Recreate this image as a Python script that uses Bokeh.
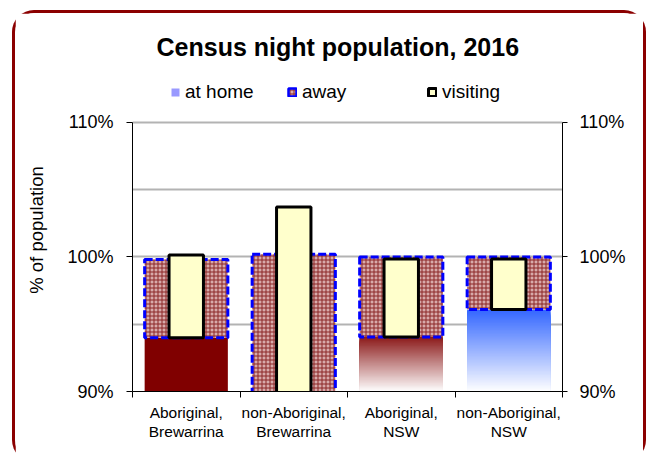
from bokeh.plotting import figure
from bokeh.models import (ColumnDataSource, Range1d, FixedTicker, LinearAxis, Legend, LegendItem)
from bokeh.embed import file_html
from bokeh.resources import INLINE

# ---- data ----
categories = ["Aboriginal,\nBrewarrina", "non-Aboriginal,\nBrewarrina", "Aboriginal,\nNSW", "non-Aboriginal,\nNSW"]
at_home = [94.0, 86.0, 94.05, 96.1]
away = [5.8, 14.2, 5.95, 3.9]
visiting = [6.15, 17.7, 5.8, 3.75]
y_ticks = [90, 100, 110]
y_tick_labels = ["90%", "100%", "110%"]
grid_ticks = [95, 100, 105, 110]
home_style = ["solid", "solid", "grad_red", "grad_blue"]
legend_labels = ["at home", "away", "visiting"]

FONT = "Liberation Sans"
Y0, Y1 = 90, 110          # axis extent
Y_TOP = 114               # frame extends above the axis to hold the legend

p = figure(width=628, height=449, x_range=Range1d(0, len(categories)), y_range=Range1d(Y0, Y_TOP),
           output_backend="svg", toolbar_location=None,
           min_border_left=117, min_border_right=87, min_border_top=55, min_border_bottom=74)
p.styles = {"border": "3px solid #8B0000", "border-bottom": "none", "border-radius": "22px",
            "margin-left": "12px", "margin-top": "10px", "box-sizing": "content-box",
            "max-width": "none", "overflow": "visible"}
p.outline_line_color = None
p.background_fill_color = "white"
p.border_fill_color = "white"

p.title.text = "Census night population, 2016"
p.title.text_font = FONT
p.title.text_font_size = "25px"
p.title.text_font_style = "bold"
p.title.text_color = "black"
p.title.align = "left"
p.title.offset = 24
p.title.standoff = 15

xc = [i + 0.5 for i in range(len(categories))]
bw = 0.774
vw = 0.32

# at home bars
solid_idx = [i for i, s in enumerate(home_style) if s == "solid"]
p.quad(left=[xc[i] - bw / 2 for i in solid_idx], right=[xc[i] + bw / 2 for i in solid_idx],
       bottom=[0 for i in solid_idx], top=[at_home[i] for i in solid_idx],
       fill_color="#800000", line_color=None)

def lerp(c1, c2, t):
    return "#%02x%02x%02x" % tuple(int(round(a + (b - a) * t)) for a, b in zip(c1, c2))

# gradient at-home bars: nested slices, drawn largest (top colour) first
grad_tops = {"grad_red": (0x8B, 0x1A, 0x1A), "grad_blue": (0x33, 0x66, 0xFF)}
N = 60
for i, s in enumerate(home_style):
    if s in grad_tops:
        lo, hi = Y0, at_home[i]
        step = (hi - lo) / N
        ks = list(range(N - 1, -1, -1))
        tops = [lo + (k + 1) * step for k in ks]
        cols = [lerp((0xFF, 0xFF, 0xFF), grad_tops[s], (k + 0.5) / N) for k in ks]
        p.quad(left=[xc[i] - bw / 2] * N, right=[xc[i] + bw / 2] * N, bottom=[lo] * N, top=tops,
               fill_color=cols, line_color=None)

# away bars
away_kw = dict(fill_color="#d8aaaa", hatch_pattern="+", hatch_color="#8b2525", hatch_scale=4,
               hatch_weight=1, line_color="#0000FF", line_width=3, line_dash="8 3")
p.quad(left=[x - bw / 2 for x in xc], right=[x + bw / 2 for x in xc],
       bottom=at_home, top=[h + a for h, a in zip(at_home, away)], **away_kw)

# visiting bars
vis_kw = dict(fill_color="#FFFFCC", line_color="black", line_width=3)
p.quad(left=[x - vw / 2 for x in xc], right=[x + vw / 2 for x in xc],
       bottom=at_home, top=[h + v for h, v in zip(at_home, visiting)], **vis_kw)

# legend dummies (NaN geometry: nothing drawn in the plot)
nan = float("nan")
def dummy():
    return ColumnDataSource(dict(left=[nan], right=[nan], top=[nan], bottom=[nan]))
r_home = p.quad(source=dummy(), fill_color="#9999FF", line_color=None)
r_away = p.quad(source=dummy(), **dict(away_kw, line_dash="solid", line_width=2.5))
r_vis = p.quad(source=dummy(), **vis_kw)

for label, r, vx in zip(legend_labels, [r_home, r_away, r_vis], [38, 155, 295]):
    lg = Legend(items=[LegendItem(label=label, renderers=[r], index=0)], location=(vx, 288),
                orientation="horizontal", border_line_color=None, background_fill_alpha=0,
                padding=0, margin=0, spacing=0, label_standoff=5, glyph_width=10, glyph_height=10,
                label_text_font=FONT, label_text_font_size="19px", label_text_color="black",
                label_height=20)
    p.add_layout(lg, "center")

# grid
p.xgrid.visible = False
p.ygrid.ticker = FixedTicker(ticks=grid_ticks)
p.ygrid.grid_line_color = "#b3b3b3"
p.ygrid.grid_line_width = 2

# x axis
xa = p.xaxis[0]
xa.ticker = FixedTicker(ticks=xc, minor_ticks=list(range(len(categories) + 1)))
xa.major_label_overrides = {x: c for x, c in zip(xc, categories)}
xa.major_tick_line_color = None
xa.major_tick_out = 0
xa.major_tick_in = 0
xa.minor_tick_out = 6
xa.minor_tick_in = 0
xa.minor_tick_line_color = "black"
xa.major_label_standoff = 6
xa.major_label_text_font = FONT
xa.major_label_text_font_size = "15.5px"
xa.major_label_text_line_height = 1.15
xa.major_label_text_color = "black"
xa.axis_line_color = "black"

def style_y(ax, out, standoff):
    ax.ticker = FixedTicker(ticks=y_ticks)
    ax.major_label_overrides = {t: l for t, l in zip(y_ticks, y_tick_labels)}
    ax.bounds = (Y0, Y1)
    ax.major_tick_out = out
    ax.major_tick_in = 0
    ax.minor_tick_line_color = None
    ax.major_label_standoff = standoff
    ax.major_label_text_font = FONT
    ax.major_label_text_font_size = "18px"
    ax.major_label_text_color = "black"
    ax.axis_line_color = "black"

ya = p.yaxis[0]
style_y(ya, 6, 13)
ya.axis_label = "% of population"
ya.axis_label_text_font = FONT
ya.axis_label_text_font_size = "18.5px"
ya.axis_label_text_font_style = "normal"
ya.axis_label_text_color = "black"
ya.axis_label_standoff = 17

ra = LinearAxis()
style_y(ra, 5, 12)
p.add_layout(ra, "right")

open("out.html", "w").write(file_html(p, INLINE))
